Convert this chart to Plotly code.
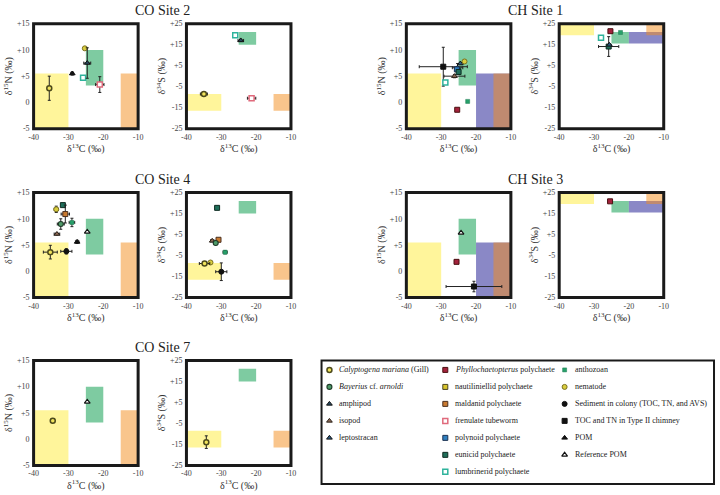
import plotly.graph_objects as go

W, H = 720, 495

# ---------------- data ----------------
# each row: (species, d13C, d13C_sd, value, value_sd)
CO2_N = [
    ("Calyptogena", -35.5, 0.5, 2.7, 2.3),
    ("POM", -28.9, 0.4, 5.5, 0.3),
    ("lumbrinerid", -25.8, 0.0, 4.7, 0.0),
    ("nematode", -25.3, 0.0, 10.3, 0.0),
    ("amphipod", -24.6, 1.0, 7.5, 2.9),
    ("frenulate", -21.0, 1.2, 3.4, 1.5),
]
CO2_S = [
    ("lumbrinerid", -26.0, 0.0, 19.5, 0.0),
    ("amphipod", -24.4, 0.8, 17.0, 0.5),
    ("Calyptogena", -35.0, 1.0, -8.5, 0.5),
    ("frenulate", -21.3, 1.2, -10.5, 0.4),
]
CH1_N = [
    ("TOC", -29.4, 6.9, 6.8, 3.7),
    ("lumbrinerid", -28.8, 0.0, 3.8, 0.0),
    ("isopod", -26.2, 3.0, 5.0, 0.3),
    ("amphipod", -25.3, 1.5, 6.6, 0.8),
    ("polynoid", -25.5, 0.0, 6.3, 0.0),
    ("eunicid", -25.0, 0.0, 5.8, 0.0),
    ("leptostracan", -24.5, 0.0, 7.4, 0.0),
    ("nematode", -23.3, 0.0, 7.8, 0.0),
    ("anthozoan", -22.4, 0.0, 0.2, 0.0),
    ("Phyllochaetopterus", -25.4, 0.0, -1.4, 0.0),
]
CH1_S = [
    ("Phyllochaetopterus", -25.3, 0.0, 21.4, 0.0),
    ("anthozoan", -22.4, 0.0, 20.8, 0.0),
    ("lumbrinerid", -28.0, 0.0, 18.3, 0.0),
    ("eunicid", -25.8, 2.9, 14.1, 4.7),
    ("leptostracan", -25.6, 0.0, 14.9, 0.0),
]
CO4_N = [
    ("nematode", -33.5, 0.6, 11.8, 0.6),
    ("eunicid", -31.6, 0.0, 12.6, 0.0),
    ("maldanid", -30.9, 1.2, 10.9, 1.7),
    ("Bayerius", -32.2, 1.0, 9.0, 1.0),
    ("anthozoan", -29.0, 0.8, 9.3, 0.8),
    ("isopod", -33.3, 0.8, 7.1, 0.2),
    ("POM", -27.5, 0.5, 5.6, 0.3),
    ("RefPOM", -24.6, 0.0, 7.5, 0.0),
    ("Calyptogena", -35.2, 2.0, 3.65, 1.3),
    ("Sediment", -30.6, 1.6, 3.8, 0.5),
]
CO4_S = [
    ("eunicid", -31.2, 0.0, 17.7, 0.0),
    ("isopod", -32.6, 0.5, 2.0, 0.5),
    ("maldanid", -30.8, 0.5, 2.5, 0.6),
    ("Bayerius", -31.6, 0.5, 1.0, 0.5),
    ("anthozoan", -28.9, 0.6, -3.4, 0.8),
    ("nematode", -33.1, 0.0, -8.3, 0.0),
    ("Calyptogena", -34.8, 1.5, -8.8, 0.8),
    ("Sediment", -30.0, 1.6, -12.7, 4.2),
]
CH3_N = [
    ("RefPOM", -24.3, 0.0, 7.3, 0.0),
    ("Phyllochaetopterus", -25.6, 0.0, 1.8, 0.0),
    ("TOC", -20.6, 8.0, -2.9, 1.0),
]
CH3_S = [
    ("Phyllochaetopterus", -25.4, 0.0, 20.8, 0.0),
]
CO7_N = [
    ("Calyptogena", -34.5, 0.0, 3.5, 0.0),
    ("RefPOM", -24.6, 0.0, 7.1, 0.0),
]
CO7_S = [
    ("Calyptogena", -34.3, 0.0, -13.9, 3.0),
]

# source end-member boxes: (d13C_min, d13C_max, min, max)
N_BOX_YELLOW = (-40, -30, -5, 5.5)
N_BOX_GREEN = (-25, -20, 3.2, 10)
N_BOX_BLUE = (-20, -10, -5, 5.5)
N_BOX_ORANGE = (-15, -10, -5, 5.5)
S_BOX_CO_YELLOW = (-40, -30, -16.5, -8.5)
S_BOX_CO_GREEN = (-25, -20, 15, 21)
S_BOX_CO_ORANGE = (-15, -10, -16.5, -8.5)
S_BOX_CH_YELLOW = (-40, -30, 19.5, 25)
S_BOX_CH_GREEN = (-25, -20, 15.5, 21)
S_BOX_CH_BLUE = (-20, -10, 15.5, 21)
S_BOX_CH_ORANGE = (-15, -10, 19.5, 25)

X_TICKS = [-40, -30, -20, -10]
X_TICKTEXT = ["-40", "-30", "-20", "-10"]
N_TICKS = [-5, 0, 5, 10, 15]
N_TICKTEXT = ["-5", "0", "+5", "+10", "+15"]
S_TICKS = [-25, -15, -5, 5, 15, 25]
S_TICKTEXT = ["-25", "-15", "-5", "+5", "+15", "+25"]

LEGEND_COL1 = ["Calyptogena", "Bayerius", "amphipod", "isopod", "leptostracan"]
LEGEND_COL2 = ["Phyllochaetopterus", "nautiliniellid", "maldanid", "frenulate",
               "polynoid", "eunicid", "lumbrinerid"]
LEGEND_COL3 = ["anthozoan", "nematode", "Sediment", "TOC", "POM", "RefPOM"]

LABELS = {
    "Calyptogena": "<i>Calyptogena mariana</i> (Gill)",
    "Bayerius": "<i>Bayerius</i> cf. <i>arnoldi</i>",
    "amphipod": "amphipod",
    "isopod": "isopod",
    "leptostracan": "leptostracan",
    "Phyllochaetopterus": "<i>Phyllochaetopterus</i> polychaete",
    "nautiliniellid": "nautiliniellid polychaete",
    "maldanid": "maldanid polychaete",
    "frenulate": "frenulate tubeworm",
    "polynoid": "polynoid polychaete",
    "eunicid": "eunicid polychaete",
    "lumbrinerid": "lumbrinerid polychaete",
    "anthozoan": "anthozoan",
    "nematode": "nematode",
    "Sediment": "Sediment in colony (TOC, TN, and AVS)",
    "TOC": "TOC and TN in Type II chimney",
    "POM": "POM",
    "RefPOM": "Reference POM",
}

# ---------------- styles ----------------
STYLE = {  # symbol, size, fill, line colour, line width
    "Calyptogena": ("circle", 5, "#f1e45c", "#4d4a1c", 1.5),
    "Bayerius": ("circle", 5, "#4e9a68", "#1e3a28", 1.1),
    "amphipod": ("triangle-up", 5, "#26485e", "#111111", 1),
    "isopod": ("triangle-up", 5, "#8d6a55", "#2a2018", 1),
    "leptostracan": ("triangle-up", 5, "#2b5a82", "#111111", 1),
    "Phyllochaetopterus": ("square", 5, "#a3223c", "#4a1010", 1),
    "nautiliniellid": ("square", 5, "#d8c52c", "#4a4420", 1),
    "maldanid": ("square", 5, "#c97a30", "#4a3020", 1),
    "frenulate": ("square", 5, "#ffffff", "#e06a7c", 1.5),
    "polynoid": ("square", 5, "#2f80c0", "#1a3050", 1),
    "eunicid": ("square", 5, "#1f6e5a", "#0e2a20", 1),
    "lumbrinerid": ("square", 5, "#ffffff", "#2fb39c", 1.5),
    "anthozoan": ("square", 4, "#27a06a", "#1d7a50", 0.5),
    "nematode": ("circle", 5, "#d9cd3e", "#7a7020", 1),
    "Sediment": ("circle", 5, "#111111", "#111111", 1),
    "TOC": ("square", 5, "#111111", "#111111", 1),
    "POM": ("triangle-up", 5, "#111111", "#111111", 1),
    "RefPOM": ("triangle-up", 5, "#ffffff", "#111111", 1.2),
}

YELLOW = "rgb(255,245,155)"
GREEN = "rgb(126,203,161)"
BLUE = "rgba(60,57,160,0.6)"
ORANGE = "rgba(243,139,25,0.5)"

SERIF = "Liberation Serif, Times New Roman, DejaVu Serif, serif"
FRAME = "#1a1a1a"

COL_PX = [(29, 135), (184, 290), (407, 513), (562, 668)]
ROW_PX = [(20, 127), (192, 299), (363, 470)]

# panel: (data, isotope, boxes, row, col)
PANELS = [
    (CO2_N, "N", [(N_BOX_YELLOW, YELLOW), (N_BOX_GREEN, GREEN), (N_BOX_ORANGE, ORANGE)], 0, 0),
    (CO2_S, "S", [(S_BOX_CO_YELLOW, YELLOW), (S_BOX_CO_GREEN, GREEN), (S_BOX_CO_ORANGE, ORANGE)], 0, 1),
    (CH1_N, "N", [(N_BOX_YELLOW, YELLOW), (N_BOX_GREEN, GREEN), (N_BOX_BLUE, BLUE), (N_BOX_ORANGE, ORANGE)], 0, 2),
    (CH1_S, "S", [(S_BOX_CH_YELLOW, YELLOW), (S_BOX_CH_GREEN, GREEN), (S_BOX_CH_BLUE, BLUE), (S_BOX_CH_ORANGE, ORANGE)], 0, 3),
    (CO4_N, "N", [(N_BOX_YELLOW, YELLOW), (N_BOX_GREEN, GREEN), (N_BOX_ORANGE, ORANGE)], 1, 0),
    (CO4_S, "S", [(S_BOX_CO_YELLOW, YELLOW), (S_BOX_CO_GREEN, GREEN), (S_BOX_CO_ORANGE, ORANGE)], 1, 1),
    (CH3_N, "N", [(N_BOX_YELLOW, YELLOW), (N_BOX_GREEN, GREEN), (N_BOX_BLUE, BLUE), (N_BOX_ORANGE, ORANGE)], 1, 2),
    (CH3_S, "S", [(S_BOX_CH_YELLOW, YELLOW), (S_BOX_CH_GREEN, GREEN), (S_BOX_CH_BLUE, BLUE), (S_BOX_CH_ORANGE, ORANGE)], 1, 3),
    (CO7_N, "N", [(N_BOX_YELLOW, YELLOW), (N_BOX_GREEN, GREEN), (N_BOX_ORANGE, ORANGE)], 2, 0),
    (CO7_S, "S", [(S_BOX_CO_YELLOW, YELLOW), (S_BOX_CO_GREEN, GREEN), (S_BOX_CO_ORANGE, ORANGE)], 2, 1),
]

TITLES = [("CO Site 2", 0, 0), ("CH Site 1", 0, 2), ("CO Site 4", 1, 0),
          ("CH Site 3", 1, 2), ("CO Site 7", 2, 0)]

fig = go.Figure()
layout = dict(
    width=W, height=H, margin=dict(l=0, r=0, t=0, b=0, pad=0),
    paper_bgcolor="white", plot_bgcolor="white", showlegend=False,
    font=dict(family=SERIF, color="#222", size=10),
)
shapes, annotations = [], []

for i, (data, iso, boxes, r, c) in enumerate(PANELS):
    k = i + 1
    xa = "xaxis" if k == 1 else f"xaxis{k}"
    ya = "yaxis" if k == 1 else f"yaxis{k}"
    xr = "x" if k == 1 else f"x{k}"
    yr = "y" if k == 1 else f"y{k}"
    x0, x1 = COL_PX[c]
    y0, y1 = ROW_PX[r]
    layout[xa] = dict(
        domain=[x0 / W, x1 / W], anchor=yr, range=[-40, -10],
        tickvals=X_TICKS, ticktext=X_TICKTEXT, ticks="", ticklabelstandoff=2,
        showgrid=False, zeroline=False, showline=False,
        tickfont=dict(family=SERIF, size=8, color="#444"),
        title=dict(text="δ<sup>13</sup>C (‰)", standoff=1,
                   font=dict(family=SERIF, size=10, color="#333")),
    )
    if iso == "N":
        tv, tt, rng, ttl = N_TICKS, N_TICKTEXT, [-5, 15], "δ<sup>15</sup>N (‰)"
    else:
        tv, tt, rng, ttl = S_TICKS, S_TICKTEXT, [-25, 25], "δ<sup>34</sup>S (‰)"
    layout[ya] = dict(
        domain=[1 - y1 / H, 1 - y0 / H], anchor=xr, range=rng,
        tickvals=tv, ticktext=tt, ticks="", ticklabelstandoff=3,
        showgrid=False, zeroline=False, showline=False,
        tickfont=dict(family=SERIF, size=8, color="#444"),
        title=dict(text=ttl, standoff=2,
                   font=dict(family=SERIF, size=10, color="#333")),
    )
    for (bx0, bx1, by0, by1), col in boxes:
        shapes.append(dict(type="rect", xref=xr, yref=yr, x0=bx0, x1=bx1,
                           y0=by0, y1=by1, fillcolor=col, line=dict(width=0),
                           layer="below"))
    # thick panel frame
    shapes.append(dict(type="rect", xref=f"{xr} domain", yref=f"{yr} domain",
                       x0=0, x1=1, y0=0, y1=1, fillcolor="rgba(0,0,0,0)",
                       line=dict(color=FRAME, width=3), layer="above"))
    for sp, x, xe, y, ye in data:
        sym, size, fill, lc, lw = STYLE[sp]
        fig.add_trace(go.Scatter(
            x=[x], y=[y], xaxis=xr, yaxis=yr, mode="markers",
            marker=dict(symbol=sym, size=size, color=fill,
                        line=dict(color=lc, width=lw)),
            error_x=dict(type="data", array=[xe], visible=xe > 0,
                         color="#222", thickness=1, width=1.5),
            error_y=dict(type="data", array=[ye], visible=ye > 0,
                         color="#222", thickness=1, width=1.5),
            name=LABELS[sp], hoverinfo="skip", showlegend=False,
        ))

for text, r, c in TITLES:
    xc = (COL_PX[c][0] + COL_PX[c + 1][1]) / 2
    annotations.append(dict(
        text=text, xref="paper", yref="paper", x=xc / W,
        y=1 - (ROW_PX[r][0] - 13) / H, xanchor="center", yanchor="middle",
        showarrow=False, font=dict(family=SERIF, size=14, color="#222"),
    ))

# ---------------- legend (own hidden axis) ----------------
LX0, LX1, LY0, LY1 = 321, 719, 363, 489
kL = len(PANELS) + 1
layout[f"xaxis{kL}"] = dict(domain=[LX0 / W, LX1 / W], anchor=f"y{kL}",
                            range=[0, LX1 - LX0], visible=False, fixedrange=True)
layout[f"yaxis{kL}"] = dict(domain=[1 - LY1 / H, 1 - LY0 / H], anchor=f"x{kL}",
                            range=[LY1 - LY0, 0], visible=False, fixedrange=True)
COL_OFFSETS = [8, 125.5, 246.5]
ROW_START, ROW_STEP, TEXT_GAP = 9.7, 17.3, 8
for ci, column in enumerate([LEGEND_COL1, LEGEND_COL2, LEGEND_COL3]):
    for ri, sp in enumerate(column):
        sym, size, fill, lc, lw = STYLE[sp]
        lx = COL_OFFSETS[ci]
        ly = ROW_START + ri * ROW_STEP
        fig.add_trace(go.Scatter(
            x=[lx], y=[ly], xaxis=f"x{kL}", yaxis=f"y{kL}", mode="markers",
            marker=dict(symbol=sym, size=size, color=fill,
                        line=dict(color=lc, width=lw)),
            hoverinfo="skip", showlegend=False, cliponaxis=False,
        ))
        annotations.append(dict(
            text=LABELS[sp], xref=f"x{kL}", yref=f"y{kL}", x=lx + TEXT_GAP, y=ly,
            xanchor="left", yanchor="middle", showarrow=False,
            font=dict(family=SERIF, size=8, color="#222"),
        ))
shapes.append(dict(type="rect", xref="paper", yref="paper",
                   x0=LX0 / W, x1=LX1 / W, y0=1 - LY1 / H, y1=1 - LY0 / H,
                   line=dict(color=FRAME, width=2), fillcolor="rgba(0,0,0,0)"))

layout["shapes"] = shapes
layout["annotations"] = annotations
fig.update_layout(**layout)
fig.write_html("out.html", config={"displayModeBar": False, "staticPlot": True},
               post_script="document.body.style.margin='0';document.body.style.padding='0';")
